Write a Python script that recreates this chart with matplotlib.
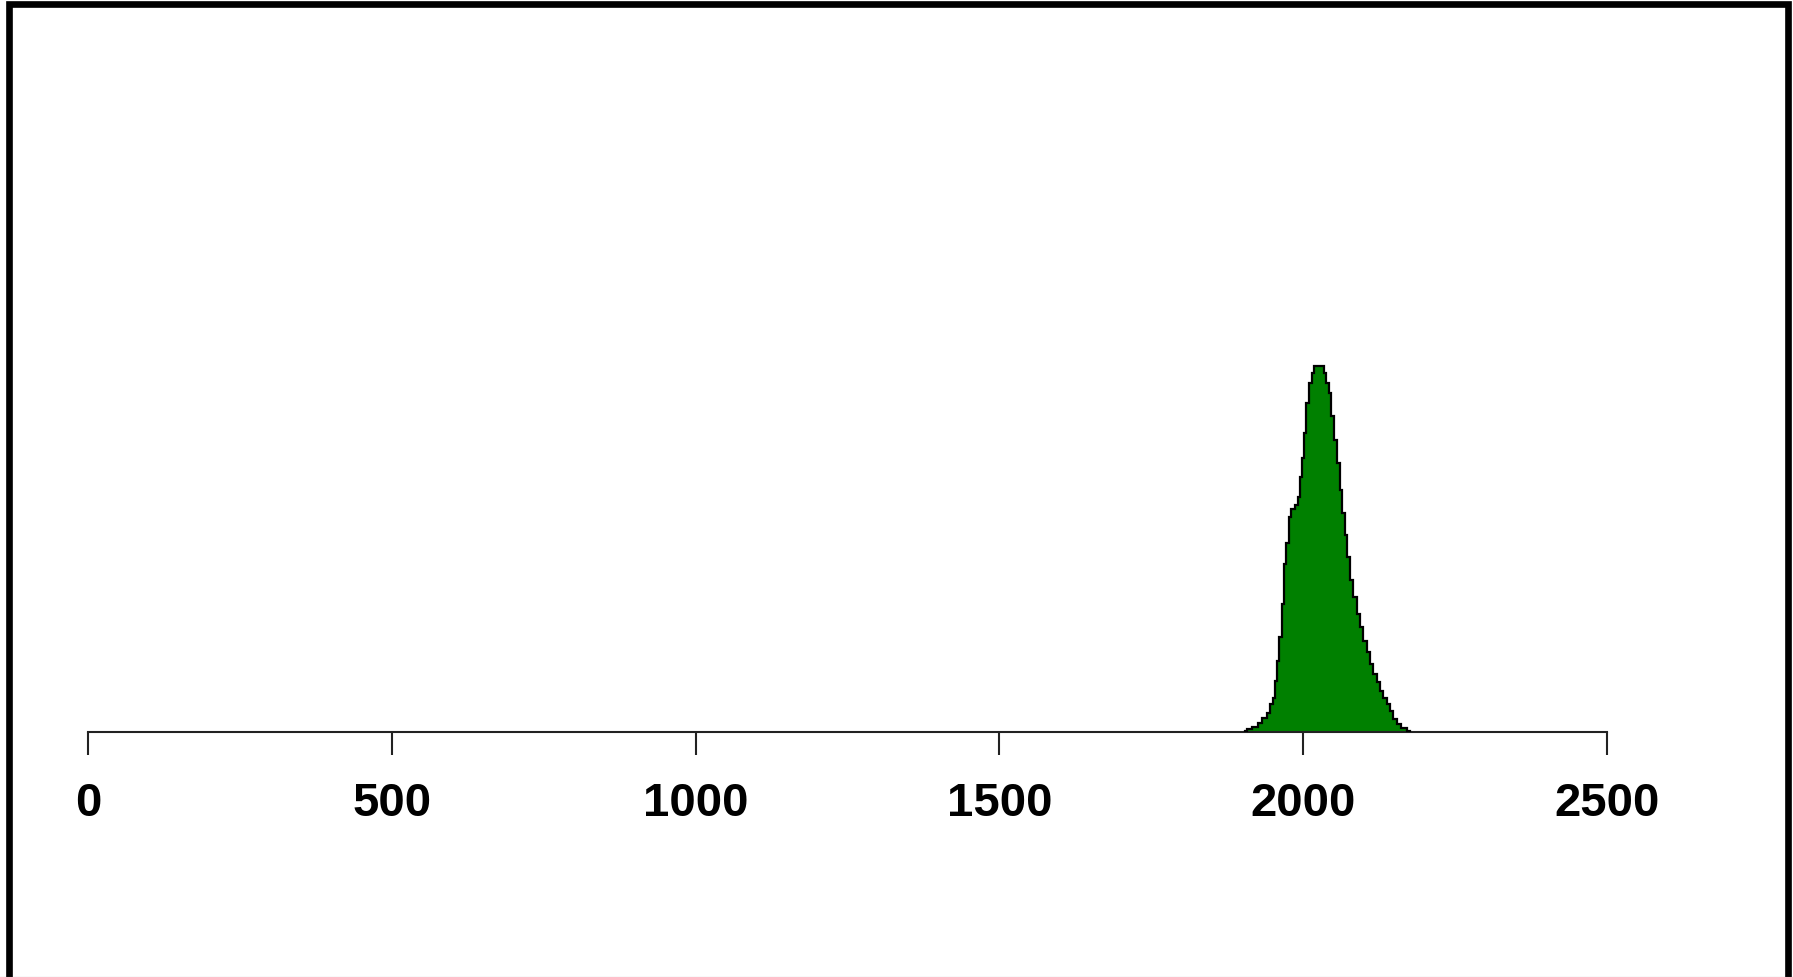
import matplotlib
matplotlib.use("Agg")
import matplotlib.pyplot as plt
from matplotlib.lines import Line2D
from matplotlib.patches import Rectangle

# Values (x in data units, height in relative density units)
x_vals = [1904.2, 1912.4, 1920.7, 1928.9, 1937.1, 1942.6, 1948.1, 1951.9, 1955.2,
          1959.0, 1962.9, 1966.2, 1970.0, 1973.8, 1978.3, 1982.7, 1989.3, 1993.1,
          1995.9, 1999.2, 2003.0, 2006.8, 2011.2, 2016.7, 2019.4, 2025.8, 2032.1,
          2035.9, 2039.7, 2044.1, 2048.6, 2054.0, 2057.9, 2062.3, 2066.1, 2070.6,
          2074.4, 2080.0, 2085.4, 2090.9, 2096.4, 2101.9, 2107.4, 2112.9, 2118.3,
          2123.8, 2129.3, 2134.8, 2140.2, 2145.7, 2151.2, 2156.6, 2164.9, 2175.8]
density = [1.0, 2.7, 5.0, 9.3, 14.3, 19.3, 27.7, 34.3, 51.0,
           71.0, 94.3, 127.7, 167.7, 187.7, 214.3, 221.7, 226.0, 234.3,
           254.3, 272.7, 297.7, 327.7, 347.7, 357.7, 364.3, 364.3, 364.3,
           357.7, 347.7, 337.7, 314.3, 291.0, 267.7, 241.0, 217.7, 196.0,
           174.3, 151.0, 134.3, 117.7, 104.3, 91.0, 79.3, 67.7, 57.7,
           49.3, 41.0, 34.3, 27.7, 21.0, 12.7, 7.7, 4.3, 1.0]
tick_values = [0, 500, 1000, 1500, 2000, 2500]

W, H = 1793, 978
fig = plt.figure(figsize=(W / 100, H / 100), dpi=100)
fig.patch.set_facecolor("white")

ax_left, ax_right = 88, 1607
ax_bottom_px = 733
ax_top_px = 100
ax = fig.add_axes([ax_left / W, (H - ax_bottom_px) / H,
                   (ax_right - ax_left) / W, (ax_bottom_px - ax_top_px) / H])
ax.set_xlim(0, 2500)
peak = max(density)
ax.set_ylim(0, peak * (ax_bottom_px - ax_top_px) / 366.0)

ax.fill_between(x_vals, density, 0, step="mid", facecolor="#008000",
                edgecolor="none", zorder=2)
ax.plot(x_vals, density, drawstyle="steps-mid", color="black", lw=1.6, zorder=3,
        solid_joinstyle="miter")

for s in ["top", "left", "right"]:
    ax.spines[s].set_visible(False)
ax.spines["bottom"].set_linewidth(1.5)
ax.spines["bottom"].set_color("#222222")
ax.spines["bottom"].set_bounds(0, 2500)
ax.set_yticks([])
ax.set_xticks(tick_values)
ax.set_xticklabels([str(v) for v in tick_values])
ax.tick_params(axis="x", direction="out", length=16.5, width=1.5, color="#222222",
               pad=19)
for lab in ax.get_xticklabels():
    lab.set_fontfamily("Liberation Sans")
    lab.set_fontweight("bold")
    lab.set_fontsize(34)
ax.patch.set_alpha(0)

# Outer frame (bottom edge cut off by the image edge)
frame = Rectangle((9 / W, -20 / H), (1787.5 - 9) / W, (H - 4.5 + 20) / H,
                  transform=fig.transFigure, fill=False, edgecolor="black",
                  linewidth=4.8, clip_on=False)
fig.patches.append(frame)
fig.add_artist(Line2D([0, 1], [0.5 / H, 0.5 / H], transform=fig.transFigure,
                      color="#9a9a9a", lw=0.8))

fig.savefig("out.png", dpi=100)
